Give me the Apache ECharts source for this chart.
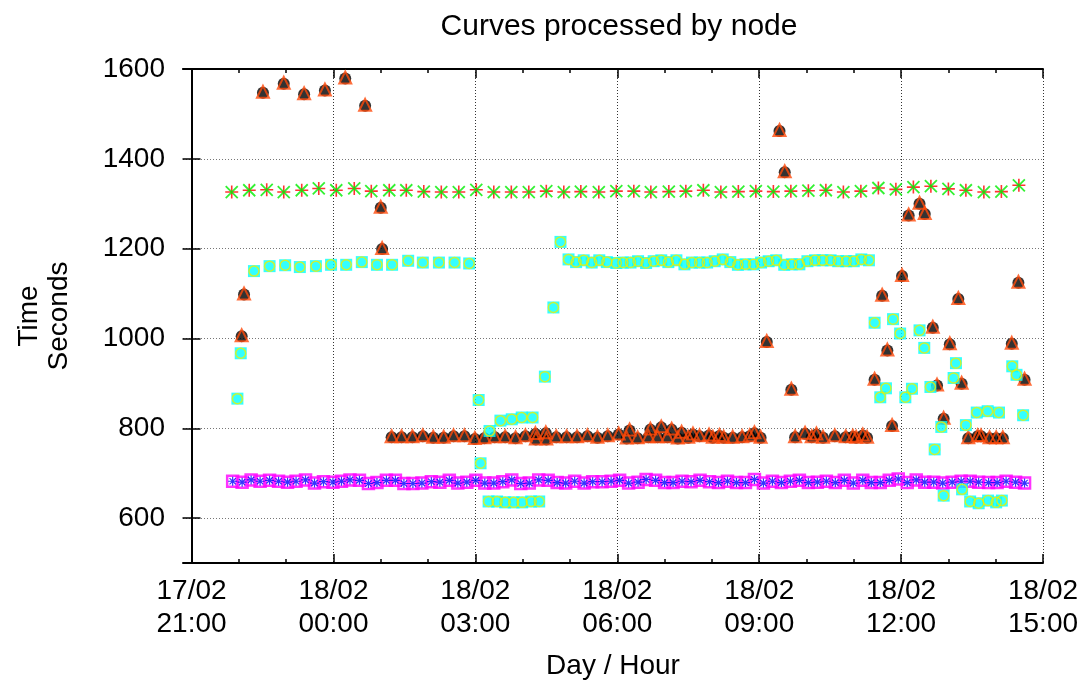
<!DOCTYPE html>
<html>
<head>
<meta charset="utf-8">
<title>Curves processed by node</title>
<script src="https://cdn.jsdelivr.net/npm/echarts@6/dist/echarts.min.js"></script>
<style>
  html, body { margin: 0; padding: 0; background: #fff; }
  #chart { width: 1086px; height: 686px; }
</style>
</head>
<body>
<div id="chart"></div>
<script>
// hours counted from 17/02 21:00
const xMajor = [0, 3, 6, 9, 12, 15, 18];
const xMinor = [0, 1, 2, 3, 4, 5, 6, 7, 8, 9, 10, 11, 12, 13, 14, 15, 16, 17, 18];
const yTicks = [600, 800, 1000, 1200, 1400, 1600];

// node A (black disc + orange triangle)
const aHours = [1.06, 1.11, 1.51, 1.95, 2.38, 2.82, 3.25, 3.67, 4.00, 4.03,
  4.23, 4.44, 4.67, 4.89, 5.11, 5.33, 5.54, 5.77, 5.99, 6.19, 6.41, 6.63, 6.85, 7.06,
  7.27, 7.28, 7.49, 7.50, 7.71, 7.93, 8.15, 8.37, 8.58, 8.80,
  9.03, 9.20, 9.26, 9.43, 9.66, 9.70, 9.85, 9.93, 10.06, 10.15, 10.28, 10.36, 10.50, 10.60,
  10.74, 10.94, 11.02, 11.16, 11.25, 11.44, 11.64, 11.80, 11.90, 12.03,
  12.16, 12.43, 12.54, 12.68,
  12.76, 12.97, 13.11, 13.21, 13.35, 13.60, 13.83, 13.98, 14.05, 14.19, 14.28,
  14.44, 14.60, 14.71, 14.81, 15.02, 15.16, 15.39, 15.50, 15.67, 15.76, 15.90, 16.03,
  16.21, 16.28, 16.42, 16.62, 16.69, 16.87, 17.01, 17.15, 17.34, 17.48, 17.61];
const aSecs = [1005, 1098, 1547, 1567, 1544, 1552, 1579, 1518, 1291, 1199,
  780, 780, 780, 782, 779, 779, 782, 782, 776, 778, 780, 780, 778, 782,
  787, 775, 789, 775, 780, 780, 780, 782, 779, 782,
  786, 777, 795, 778, 780, 797, 780, 802, 780, 797, 777, 790, 779, 786,
  782, 784, 779, 783, 779, 779, 780, 782, 789, 779,
  992, 1462, 1370, 886,
  780, 788, 780, 786, 779, 782, 780, 781, 779, 784, 779,
  908, 1095, 973, 805, 1139, 1274, 1300, 1277, 1024, 895, 821, 987,
  1088, 899, 778, 782, 782, 778, 778, 778, 988, 1124, 908];

// node B (red + / green x)
const bHours = [0.85, 1.22, 1.59, 1.95, 2.33, 2.69, 3.06, 3.44, 3.80, 4.18, 4.54, 4.91,
  5.28, 5.65, 6.02, 6.39, 6.76, 7.13, 7.50, 7.87, 8.23, 8.61, 8.98, 9.35, 9.71, 10.09,
  10.45, 10.82, 11.19, 11.56, 11.93, 12.30, 12.67, 13.04, 13.41, 13.78, 14.15, 14.52,
  14.89, 15.26, 15.63, 16.00, 16.37, 16.75, 17.12, 17.49];
const bSecs = [1326, 1330, 1331, 1326, 1330, 1334, 1330, 1334, 1328, 1330, 1330, 1327,
  1326, 1326, 1331, 1326, 1326, 1326, 1328, 1326, 1327, 1326, 1328, 1328, 1326, 1327,
  1328, 1330, 1326, 1327, 1328, 1327, 1328, 1329, 1330, 1326, 1328, 1335, 1332, 1337,
  1339, 1333, 1330, 1326, 1327, 1341];

// node C (cyan square + yellow ring)
const cHours = [0.97, 1.04, 1.32, 1.65, 1.98, 2.29, 2.63, 2.95, 3.27, 3.60, 3.92, 4.24,
  4.58, 4.89, 5.23, 5.56, 5.87,
  6.07, 6.11, 6.28, 6.30, 6.46, 6.53, 6.63, 6.77, 6.81, 6.98, 6.99, 7.18, 7.21, 7.35,
  7.47, 7.65, 7.80,
  7.97, 8.13, 8.29, 8.46, 8.62, 8.78, 8.98, 9.12, 9.28, 9.44, 9.61, 9.77, 9.93, 10.08,
  10.25, 10.42, 10.58, 10.74, 10.90, 11.06, 11.23, 11.39, 11.55, 11.71, 11.88, 12.04,
  12.20, 12.36, 12.53, 12.69, 12.85, 13.02, 13.18, 13.34, 13.51, 13.67, 13.84, 14.00,
  14.16, 14.32,
  14.44, 14.56, 14.68, 14.83, 14.98, 15.09, 15.23, 15.39, 15.49, 15.62, 15.71, 15.85,
  15.90, 16.11, 16.16, 16.29, 16.37, 16.46, 16.60, 16.64, 16.83, 16.84, 17.01, 17.07,
  17.13, 17.35, 17.44, 17.58];
const cSecs = [866, 967, 1150, 1161, 1163, 1159, 1161, 1164, 1164, 1170, 1164, 1164,
  1173, 1169, 1169, 1169, 1167,
  863, 722, 637, 794, 637, 817, 635, 820, 635, 824, 635, 637, 824, 637,
  915, 1069, 1215,
  1176, 1170, 1174, 1169, 1174, 1170, 1168, 1169, 1169, 1172, 1168, 1172, 1174, 1170,
  1174, 1165, 1169, 1169, 1169, 1172, 1176, 1170, 1164, 1165, 1165, 1169,
  1172, 1174, 1164, 1165, 1165, 1172, 1174, 1174, 1174, 1172, 1172, 1172,
  1176, 1174,
  1035, 869, 889, 1043, 1011, 869, 888, 1018, 979, 892, 753, 803,
  650, 912, 945, 664, 807, 637, 835, 633, 838, 639, 635, 835,
  639, 938, 919, 829];

// node D (magenta square + blue asterisk)
const dHours = [0.87, 1.07, 1.26, 1.45, 1.65, 1.84, 2.03, 2.21, 2.41, 2.60, 2.79, 2.99,
  3.17, 3.35, 3.55, 3.74, 3.92, 4.12, 4.31, 4.49, 4.68, 4.87, 5.07, 5.25, 5.45, 5.63,
  5.82, 6.01, 6.20, 6.39, 6.58, 6.77, 6.96, 7.14, 7.34, 7.54, 7.73, 7.91, 8.10, 8.30,
  8.48, 8.68, 8.87, 9.05, 9.24, 9.44, 9.61, 9.81, 10.00, 10.18, 10.37, 10.56, 10.75,
  10.95, 11.14, 11.33, 11.52, 11.71, 11.90, 12.09, 12.28, 12.47, 12.66, 12.85, 13.04,
  13.23, 13.42, 13.61, 13.80, 13.99, 14.19, 14.37, 14.56, 14.75, 14.94, 15.13, 15.32,
  15.50, 15.69, 15.88, 16.08, 16.27, 16.46, 16.64, 16.85, 17.03, 17.22, 17.42, 17.61];
const dSecs = [682, 680, 685, 682, 684, 682, 680, 682, 685, 678, 681, 680,
  682, 685, 684, 677, 679, 684, 684, 677, 677, 678, 681, 680, 684, 678,
  680, 684, 678, 678, 681, 685, 677, 678, 685, 684, 679, 678, 682, 678,
  681, 681, 682, 684, 678, 680, 686, 684, 679, 679, 682, 681, 684,
  681, 679, 682, 679, 679, 686, 678, 682, 679, 682, 684, 679,
  680, 682, 679, 684, 678, 684, 679, 679, 684, 687, 679, 685,
  680, 680, 678, 680, 682, 682, 680, 679, 679, 682, 680, 678];

const FONT = 'Liberation Sans, Arial, Helvetica, sans-serif';
const zip = (xs, ys) => xs.map((x, i) => [x, ys[i]]);

const plusPath = 'path://M0,5L10,5M5,0L5,10';
const crossPath = 'path://M0,0L10,10M10,0L0,10';
const starPath = 'path://M0,5L10,5M5,0L5,10M1.5,1.5L8.5,8.5M8.5,1.5L1.5,8.5';

function hourLabel(h) {
  const t = 21 + h;
  const day = 17 + Math.floor(t / 24);
  const hh = t % 24;
  return day + '/02\n' + String(hh).padStart(2, '0') + ':00';
}

function xAxisDef(pos, ticks, len, main) {
  return {
    type: 'value', position: pos, min: -0.18, max: 18,
    axisLine: { show: main, onZero: false, lineStyle: { color: '#000', width: 2 } },
    axisTick: { show: true, inside: true, customValues: ticks, length: len, lineStyle: { color: '#000', width: 1.5 } },
    axisLabel: { show: false },
    splitLine: { show: false }
  };
}

const bottomAxis = xAxisDef('bottom', xMajor, 9, true);
bottomAxis.axisLabel = {
  show: true, customValues: xMajor, formatter: hourLabel,
  fontSize: 28, lineHeight: 33, margin: 12, color: '#000', fontFamily: FONT
};
bottomAxis.splitLine = { show: true, lineStyle: { color: '#333', type: [1, 2], width: 1 } };
bottomAxis.name = 'Day / Hour';
bottomAxis.nameLocation = 'middle';
bottomAxis.nameGap = 89;
bottomAxis.nameTextStyle = { fontSize: 28, color: '#000', fontFamily: FONT };

const chart = echarts.init(document.getElementById('chart'), null, { renderer: 'canvas' });

chart.setOption({
  animation: false,
  backgroundColor: '#fff',
  title: {
    text: 'Curves processed by node',
    left: 614, top: 7, textAlign: 'center',
    textStyle: { fontSize: 30, fontWeight: 'normal', color: '#000', fontFamily: FONT }
  },
  grid: { left: 183, right: 43, top: 69, bottom: 123, containLabel: false },
  xAxis: [
    bottomAxis,
    xAxisDef('bottom', xMinor, 4, false),
    xAxisDef('top', xMajor, 9, true),
    xAxisDef('top', xMinor, 4, false)
  ],
  yAxis: [
    {
      type: 'value', position: 'left', min: 500, max: 1600,
      axisLine: { show: true, lineStyle: { color: '#000', width: 2 } },
      axisTick: { show: true, inside: true, customValues: yTicks, length: 9, lineStyle: { color: '#000', width: 1.5 } },
      axisLabel: { customValues: yTicks, formatter: v => String(v), fontSize: 28, margin: 18, color: '#000', fontFamily: FONT },
      splitLine: { show: true, lineStyle: { color: '#777', type: [1, 2], width: 1 } },
      name: 'Time\nSeconds', nameLocation: 'middle', nameRotate: 90, nameGap: 109,
      nameTextStyle: { fontSize: 28, lineHeight: 30, color: '#000', fontFamily: FONT }
    },
    {
      type: 'value', position: 'right', min: 500, max: 1600,
      axisLine: { show: true, lineStyle: { color: '#000', width: 2 } },
      axisTick: { show: true, inside: true, customValues: yTicks, length: 9, lineStyle: { color: '#000', width: 1.5 } },
      axisLabel: { show: false },
      splitLine: { show: false }
    }
  ],
  series: [
    { type: 'scatter', data: zip(dHours, dSecs), symbol: 'rect', symbolSize: 11,
      itemStyle: { color: 'rgba(0,0,0,0)', borderColor: '#ff00ff', borderWidth: 2.5 } },
    { type: 'scatter', data: zip(dHours, dSecs), symbol: starPath, symbolSize: 9,
      itemStyle: { color: 'rgba(0,0,0,0)', borderColor: '#0000ff', borderWidth: 1.2 } },

    { type: 'scatter', data: zip(aHours, aSecs), symbol: 'circle', symbolSize: 12,
      itemStyle: { color: '#000' } },
    { type: 'scatter', data: zip(aHours, aSecs), symbol: 'triangle', symbolSize: 12, symbolOffset: [0, -1],
      itemStyle: { color: 'rgba(0,0,0,0)', borderColor: '#ff4a0a', borderWidth: 2 } },

    { type: 'scatter', data: zip(bHours, bSecs), symbol: plusPath, symbolSize: 13,
      itemStyle: { color: 'rgba(0,0,0,0)', borderColor: '#ff0000', borderWidth: 1.6 } },
    { type: 'scatter', data: zip(bHours, bSecs), symbol: crossPath, symbolSize: 12,
      itemStyle: { color: 'rgba(0,0,0,0)', borderColor: '#00ee00', borderWidth: 1.8 } },

    { type: 'scatter', data: zip(cHours, cSecs), symbol: 'rect', symbolSize: 12,
      itemStyle: { color: '#00ffff' } },
    { type: 'scatter', data: zip(cHours, cSecs), symbol: 'circle', symbolSize: 10,
      itemStyle: { color: 'rgba(0,0,0,0)', borderColor: '#f0f000', borderWidth: 1.5 } }
  ]
});
</script>
</body>
</html>
